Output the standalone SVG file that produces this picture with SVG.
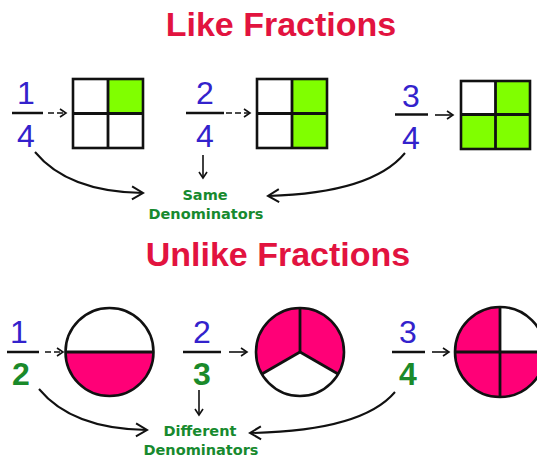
<svg xmlns="http://www.w3.org/2000/svg" width="537" height="459" viewBox="0 0 537 459">
<style>
.title{font-family:"Liberation Sans",Arial,sans-serif;font-weight:bold;font-size:34px;fill:#E2133F;text-anchor:middle}
.num{font-family:"Liberation Sans",Arial,sans-serif;font-size:32px;fill:#3322CC;text-anchor:middle}
.den2{font-family:"Liberation Sans",Arial,sans-serif;font-weight:bold;font-size:32px;fill:#1A8A2A;text-anchor:middle}
.bar{stroke:#111;stroke-width:2.5}
.lbl{font-family:"DejaVu Sans",Verdana,sans-serif;font-weight:bold;font-size:14.5px;fill:#178A2E;text-anchor:middle}
.arr{fill:none;stroke:#111;stroke-width:1.6;marker-end:url(#ah)}
.dash{stroke-dasharray:6 3}
.curve{fill:none;stroke:#111;stroke-width:2;marker-end:url(#ah2)}
.cell{stroke:#111;stroke-width:2.8}
.g{fill:#80FF00}
.w{fill:#fff}
.p{fill:#FF0077}
.edge{fill:none;stroke:#111;stroke-width:2.6}
</style>
<defs>
<marker id="ah" markerWidth="10" markerHeight="10" refX="8" refY="5" orient="auto" markerUnits="userSpaceOnUse">
<path d="M2,1 L8,5 L2,9" fill="none" stroke="#111" stroke-width="1.6"/>
</marker>
<marker id="ah2" markerWidth="16" markerHeight="16" refX="13" refY="8" orient="auto" markerUnits="userSpaceOnUse">
<path d="M2,1.5 L13,8 L2,14.5" fill="none" stroke="#111" stroke-width="2"/>
</marker>
</defs>
<rect width="537" height="459" fill="#fff"/>

<text class="title" x="281" y="36">Like Fractions</text>
<text class="title" x="278" y="266">Unlike Fractions</text>

<g id="frac-1-4">
<text class="num" x="26" y="104">1</text>
<line class="bar" x1="12" y1="113" x2="43" y2="113"/>
<text class="num" x="26" y="147">4</text>
</g>
<g id="grid-1-4">
<rect class="w" x="73" y="79" width="70" height="69"/>
<rect class="g" x="108" y="79" width="35" height="34.5"/>
<rect class="edge" x="73" y="79" width="70" height="69"/>
<line class="cell" x1="108" y1="79" x2="108" y2="148"/>
<line class="cell" x1="73" y1="113.5" x2="143" y2="113.5"/>
</g>

<g id="frac-2-4">
<text class="num" x="205" y="104">2</text>
<line class="bar" x1="186" y1="113" x2="224" y2="113"/>
<text class="num" x="205" y="147">4</text>
</g>
<g id="grid-2-4">
<rect class="w" x="257" y="79" width="70" height="69"/>
<rect class="g" x="292" y="79" width="35" height="69"/>
<rect class="edge" x="257" y="79" width="70" height="69"/>
<line class="cell" x1="292" y1="79" x2="292" y2="148"/>
<line class="cell" x1="257" y1="113.5" x2="327" y2="113.5"/>
</g>

<g id="frac-3-4">
<text class="num" x="411" y="106.5">3</text>
<line class="bar" x1="395" y1="114.5" x2="428" y2="114.5"/>
<text class="num" x="411" y="149">4</text>
</g>
<g id="grid-3-4">
<rect class="g" x="461" y="81" width="69" height="68"/>
<rect class="w" x="461" y="81" width="34.5" height="33.5"/>
<rect class="edge" x="461" y="81" width="69" height="68"/>
<line class="cell" x1="495.5" y1="81" x2="495.5" y2="149"/>
<line class="cell" x1="461" y1="114.5" x2="530" y2="114.5"/>
</g>

<g id="same-denominators">
<text class="lbl" x="205" y="200">Same</text>
<text class="lbl" x="206" y="219">Denominators</text>
</g>

<g id="frac-1-2">
<text class="num" x="19" y="343">1</text>
<line class="bar" x1="7" y1="352" x2="39" y2="352"/>
<text class="den2" x="21" y="385">2</text>
</g>
<g id="circle-1-2">
<circle cx="109.5" cy="352" r="44" fill="#fff"/>
<path class="p" d="M65.5,352 A44,44 0 0 0 153.5,352 Z"/>
<circle class="edge" cx="109.5" cy="352" r="44"/>
<line class="cell" x1="65.5" y1="352" x2="153.5" y2="352"/>
</g>

<g id="frac-2-3">
<text class="num" x="202" y="343">2</text>
<line class="bar" x1="183" y1="352" x2="221" y2="352"/>
<text class="den2" x="202" y="385">3</text>
</g>
<g id="circle-2-3">
<circle cx="300" cy="352" r="44" fill="#fff"/>
<path class="p" d="M300,352 L261.9,374 A44,44 0 1 1 338.1,374 Z"/>
<circle class="edge" cx="300" cy="352" r="44"/>
<line class="cell" x1="300" y1="352" x2="300" y2="308"/>
<line class="cell" x1="300" y1="352" x2="261.9" y2="374"/>
<line class="cell" x1="300" y1="352" x2="338.1" y2="374"/>
</g>

<g id="frac-3-4b">
<text class="num" x="408" y="343">3</text>
<line class="bar" x1="392" y1="352" x2="425" y2="352"/>
<text class="den2" x="408" y="385">4</text>
</g>
<g id="circle-3-4">
<circle class="p" cx="500" cy="352" r="45"/>
<path class="w" d="M500,352 L500,307 A45,45 0 0 1 545,352 Z"/>
<circle class="edge" cx="500" cy="352" r="45"/>
<line class="cell" x1="500" y1="307" x2="500" y2="397"/>
<line class="cell" x1="455" y1="352" x2="545" y2="352"/>
</g>

<g id="different-denominators">
<text class="lbl" x="200" y="436">Different</text>
<text class="lbl" x="201" y="455">Denominators</text>
</g>

<g id="connectors">
<line class="arr dash" x1="48" y1="113" x2="66" y2="113"/>
<line class="arr dash" x1="226" y1="113" x2="250" y2="113"/>
<line class="arr" x1="435" y1="115" x2="453" y2="115"/>
<line class="arr dash" x1="45" y1="352" x2="63" y2="352"/>
<line class="arr" x1="229" y1="352" x2="247" y2="352"/>
<line class="arr" x1="432" y1="352" x2="449" y2="352"/>
<path class="curve" d="M35,152 Q68,192 143,193"/>
<path class="curve" d="M405,153 Q372,193 268,196"/>
<line class="arr" x1="203" y1="155" x2="203" y2="178"/>
<path class="curve" d="M39,389 Q72,429 147,430"/>
<path class="curve" d="M395,392 Q362,431 250,433"/>
<line class="arr" x1="199" y1="390" x2="199" y2="415"/>
</g>
</svg>
